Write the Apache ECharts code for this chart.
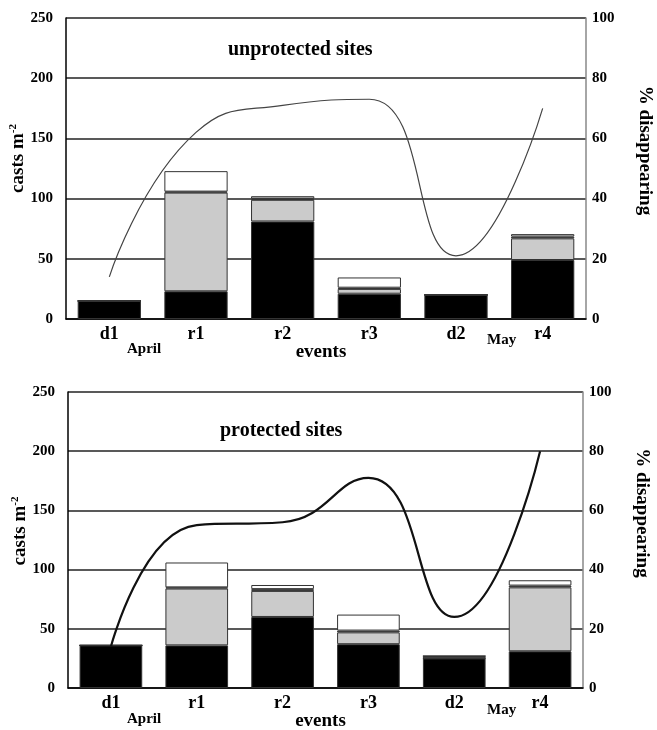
<!DOCTYPE html>
<html>
<head>
<meta charset="utf-8">
<script src="https://cdn.jsdelivr.net/npm/echarts@6/dist/echarts.min.js"></script>
<style>html,body{margin:0;padding:0;background:#fff}#c{width:657px;height:730px}</style>
</head>
<body>
<div id="c"></div>
<script>
const categories = ['d1','r1','r2','r3','d2','r4'];
const leftTicks = [0,50,100,150,200,250];
const rightTicks = [0,20,40,60,80,100];

// unprotected sites (casts m-2)
const unBlack = [15, 23, 81, 21, 20, 49];
const unGray  = [0, 82, 18, 4, 0, 18];
const unDark  = [0, 0.8, 1, 1, 0, 1.5];
const unWhite = [0, 17, 2, 8.5, 0, 2];
const unPct   = [14, 62, 71, 73, 21, 70];

// protected sites (casts m-2)
const prBlack = [36, 36, 60, 37, 25, 31];
const prGray  = [0, 48, 22, 10, 0, 54];
const prDark  = [0, 1, 1.5, 1.5, 2, 1.5];
const prWhite = [0, 21, 3.5, 13.5, 0, 4.5];
const prPct   = [14, 55, 56, 71, 24, 80];

const FONT = 'Liberation Serif';
const chart = echarts.init(document.getElementById('c'));

function xAxis(i){
  return {
    type:'category', gridIndex:i, data:categories,
    axisLine:{lineStyle:{color:'#000', width:1.5}},
    axisTick:{show:false},
    axisLabel:{color:'#000', fontFamily:FONT, fontWeight:'bold', fontSize:18, margin:6},
    name:'events', nameLocation:'middle', nameGap:24, nameMoveOverlap:false,
    nameTextStyle:{color:'#000', fontFamily:FONT, fontWeight:'bold', fontSize:19, padding:[0,10,0,0]}
  };
}
function yLeft(i, shift){
  return {
    type:'value', gridIndex:i, min:0, max:250, interval:50,
    axisLine:{show:true, lineStyle:{color:'#000', width:1.5}},
    axisTick:{show:false},
    splitLine:{show:true, lineStyle:{color:'#222', width:1.5}},
    axisLabel:{color:'#000', fontFamily:FONT, fontWeight:'bold', fontSize:15, margin:13},
    name:'{a|casts m}{b|-2}', nameLocation:'middle', nameGap:38, nameRotate:90, nameMoveOverlap:false,
    nameTextStyle:{padding:[0,0,0,shift], rich:{
      a:{color:'#000', fontFamily:FONT, fontWeight:'bold', fontSize:19},
      b:{color:'#000', fontFamily:FONT, fontWeight:'bold', fontSize:11, verticalAlign:'top', padding:[0,0,9,0]}
    }}
  };
}
function yRight(i, shift){
  return {
    type:'value', gridIndex:i, position:'right', min:0, max:100, interval:20,
    axisLine:{show:true, lineStyle:{color:'#888', width:1.5}},
    axisTick:{show:false},
    splitLine:{show:false},
    axisLabel:{color:'#000', fontFamily:FONT, fontWeight:'bold', fontSize:15, margin:6},
    name:'% disappearing', nameLocation:'middle', nameGap:49, nameRotate:-90, nameMoveOverlap:false,
    nameTextStyle:{color:'#000', fontFamily:FONT, fontWeight:'bold', fontSize:19, padding:[0,shift,0,0]}
  };
}
function barSeries(name, data, color, xi, yi, stack){
  return {
    type:'bar', name, data, stack, xAxisIndex:xi, yAxisIndex:yi, barWidth:'73%',
    itemStyle:{color, borderColor:'#333', borderWidth:1},
    silent:true, animation:false
  };
}
function lineSeries(data, xi, yi, w, c){
  return {
    type:'line', data, xAxisIndex:xi, yAxisIndex:yi, smooth:0.5, symbol:'none',
    lineStyle:{color:c, width:w}, animation:false, silent:true, z:5
  };
}

const option = {
  animation:false,
  grid:[
    {left:66, right:71, top:18, height:301, outerBoundsMode:'none', containLabel:false},
    {left:68, right:74, top:392, height:296, outerBoundsMode:'none', containLabel:false}
  ],
  xAxis:[xAxis(0), xAxis(1)],
  yAxis:[yLeft(0, 20), yRight(0, 36), yLeft(1, 18), yRight(1, 54)],
  series:[
    barSeries('black', unBlack, '#000', 0, 0, 'u'),
    barSeries('gray', unGray, '#cbcbcb', 0, 0, 'u'),
    barSeries('dark', unDark, '#555', 0, 0, 'u'),
    barSeries('white', unWhite, '#fff', 0, 0, 'u'),
    lineSeries(unPct, 0, 1, 1.2, '#444'),
    barSeries('black', prBlack, '#000', 1, 2, 'p'),
    barSeries('gray', prGray, '#cbcbcb', 1, 2, 'p'),
    barSeries('dark', prDark, '#555', 1, 2, 'p'),
    barSeries('white', prWhite, '#fff', 1, 2, 'p'),
    lineSeries(prPct, 1, 3, 2.2, '#111')
  ],
  graphic:[
    {type:'text', left:228, top:40, style:{text:'unprotected sites', fill:'#000', font:'bold 20px "Liberation Serif"'}},
    {type:'text', left:220, top:421, style:{text:'protected sites', fill:'#000', font:'bold 20px "Liberation Serif"'}},
    {type:'text', left:127, top:342, style:{text:'April', fill:'#000', font:'bold 15px "Liberation Serif"'}},
    {type:'text', left:487, top:333, style:{text:'May', fill:'#000', font:'bold 15px "Liberation Serif"'}},
    {type:'text', left:127, top:712, style:{text:'April', fill:'#000', font:'bold 15px "Liberation Serif"'}},
    {type:'text', left:487, top:703, style:{text:'May', fill:'#000', font:'bold 15px "Liberation Serif"'}}
  ]
};
chart.setOption(option);
</script>
</body>
</html>
